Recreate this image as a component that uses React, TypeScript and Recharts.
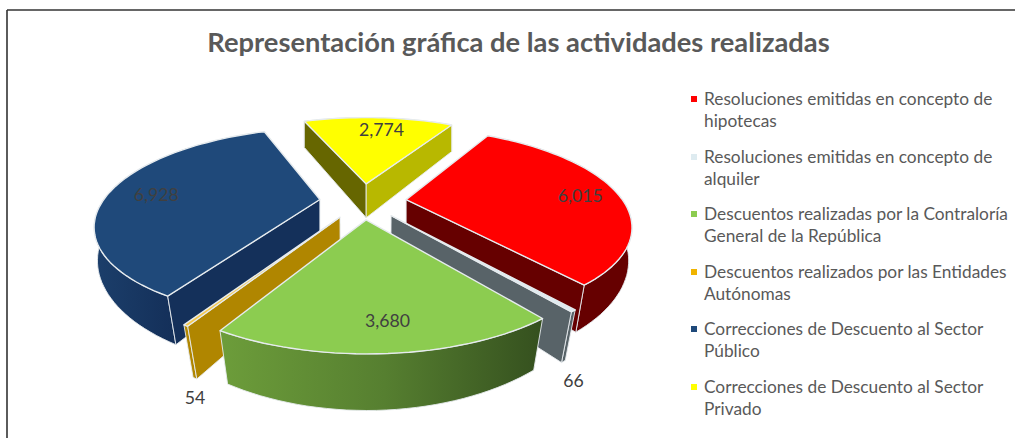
import React from 'react';
import { PieChart, Pie, Legend } from 'recharts';

const categories = [
  'Resoluciones emitidas en concepto de\nhipotecas',
  'Resoluciones emitidas en concepto de\nalquiler',
  'Descuentos realizadas por la Contraloría\nGeneral de la República',
  'Descuentos realizados por las Entidades\nAutónomas',
  'Correcciones de Descuento al Sector\nPúblico',
  'Correcciones de Descuento al Sector\nPrivado',
];
const values = [6015, 66, 3680, 54, 6928, 2774];

const topColors = ['#FF0000', '#DEEBF0', '#8CCC50', '#F5C84A', '#1F497A', '#FFFF00'];
const legendColors = ['#FF0000', '#DEEBF0', '#8CCC50', '#F0B400', '#1F497A', '#FFFF00'];
const rimColors = ['#660000', '#586368', 'url(#greenRim)', '#B08600', 'url(#blueRim)', '#B8B800'];
const startWallColors = ['#660000', '#586368', '#3A5520', '#B08600', '#14305A', '#666600'];
const endWallColors = ['#660000', '#586368', '#3A5520', '#B08600', '#14305A', '#B8B800'];

const rows = categories.map((name, i) => ({ name, value: values[i] }));

// Perspective model
const W = 1015;
const H = 438;
const CX = 363;
const CY = 201;
const RADIUS = 217;
const SQUASH = 90 / 217;
const PERSP = 0.245;
const EXPLODE = 0.2;
const DEPTH = 36;
const DEPTH_POWER = 1.3;
const BASE_SHRINK = 0.05;
const EDGE = '#E6EBEE';

const project = (u: number, v: number, cx: number, cy: number, r: number, low = false) => {
  const s = 1 / (1 - PERSP * v);
  const x = r * u * s;
  const y = r * SQUASH * v * s;
  if (!low) return [cx + x, cy + y];
  return [cx + x * (1 - BASE_SHRINK * Math.max(0, v)), cy + y + DEPTH * Math.pow(s, DEPTH_POWER)];
};
const unit = (deg: number) => {
  const t = (deg * Math.PI) / 180;
  return [Math.sin(t), -Math.cos(t)];
};
const fmt = (p: number[]) => `${p[0].toFixed(1)},${p[1].toFixed(1)}`;

const layerOf = [0, 1, 2, 1, 0, 0];

const Slice = (props: any) => {
  const { cx, cy, outerRadius, startAngle, endAngle, index, layer } = props;
  if (layerOf[index] !== layer) return <g />;
  const a1 = 90 - startAngle;
  const a2 = 90 - endAngle;
  const [eu, ev] = unit((a1 + a2) / 2).map((d) => d * EXPLODE);
  const pt = (deg: number, rad: number, low = false) => {
    const [u, v] = unit(deg);
    return project(eu + u * rad, ev + v * rad, cx, cy, outerRadius, low);
  };
  const steps = Math.max(2, Math.ceil((a2 - a1) / 2));
  const upper: number[][] = [];
  const lower: number[][] = [];
  for (let i = 0; i <= steps; i++) {
    const d = a1 + ((a2 - a1) * i) / steps;
    upper.push(pt(d, 1));
    lower.push(pt(d, 1, true));
  }
  const apexT = pt(0, 0);
  const apexB = pt(0, 0, true);
  const startVisible = -Math.sin((a1 * Math.PI) / 180) > 0;
  const endVisible = Math.sin((a2 * Math.PI) / 180) > 0;
  const rimPts = [...upper, ...[...lower].reverse()].map(fmt).join(' ');
  const topPts = [apexT, ...upper].map(fmt).join(' ');
  return (
    <g>
      <defs>
        <linearGradient id="greenRim" gradientUnits="userSpaceOnUse" x1="225" y1="0" x2="545" y2="0">
          <stop offset="0" stopColor="#6C9C3A" />
          <stop offset="0.5" stopColor="#567F30" />
          <stop offset="1" stopColor="#344F1E" />
        </linearGradient>
        <linearGradient id="blueRim" gradientUnits="userSpaceOnUse" x1="93" y1="0" x2="171" y2="0">
          <stop offset="0" stopColor="#1C3F6B" />
          <stop offset="1" stopColor="#14305A" />
        </linearGradient>
      </defs>
      <polygon points={rimPts} fill={rimColors[index]} stroke={EDGE} strokeWidth={0.9} strokeLinejoin="round" />
      {startVisible && (
        <polygon
          points={[apexT, upper[0], lower[0], apexB].map(fmt).join(' ')}
          fill={startWallColors[index]}
          stroke={EDGE}
          strokeWidth={0.9}
          strokeLinejoin="round"
        />
      )}
      {endVisible && (
        <polygon
          points={[apexT, upper[steps], lower[steps], apexB].map(fmt).join(' ')}
          fill={endWallColors[index]}
          stroke={EDGE}
          strokeWidth={0.9}
          strokeLinejoin="round"
        />
      )}
      <polygon points={topPts} fill={topColors[index]} stroke={EDGE} strokeWidth={1.4} strokeLinejoin="round" />
    </g>
  );
};

const SMALL_VALUE = 100;
const sliceLabel = (props: any) => {
  const { cx, cy, outerRadius, midAngle, value } = props;
  const mid = 90 - midAngle;
  const [eu, ev] = unit(mid).map((d) => d * EXPLODE);
  const [u, v] = unit(mid);
  let p: number[];
  if (value < SMALL_VALUE) {
    const base = project(eu + u, ev + v, cx, cy, outerRadius, true);
    p = [base[0] + (u > 0 ? 10 : 0), base[1] + 21];
  } else {
    const c = project(eu + u * 0.8, ev + v * 0.8, cx, cy, outerRadius);
    p = [c[0] + 5, c[1] + 3];
  }
  return (
    <text
      x={p[0]}
      y={p[1]}
      textAnchor="middle"
      dominantBaseline="middle"
      fontFamily="Lato, sans-serif"
      fontSize={17.7}
      fill="#404040"
    >
      {Number(value).toLocaleString('en-US')}
    </text>
  );
};

const LegendBlock = () => (
  <div style={{ position: 'absolute', left: 691, top: 88, width: 322, fontFamily: 'Lato, sans-serif', fontSize: 17.3, lineHeight: '22px', color: '#595959' }}>
    {categories.map((c, i) => (
      <div key={c} style={{ position: 'relative', paddingLeft: 13, height: 44, marginBottom: 13.6, whiteSpace: 'pre-line' }}>
        <span style={{ position: 'absolute', left: 0, top: 8, width: 6, height: 6, background: legendColors[i] }} />
        {c}
      </div>
    ))}
  </div>
);

export default function App() {
  return (
    <div style={{ position: 'absolute', left: 0, top: 0, width: W, height: H, background: '#fff', overflow: 'hidden' }}>
      <PieChart width={W} height={H} margin={{ top: 0, right: 0, bottom: 0, left: 0 }}>
        <line x1={7} y1={10} x2={W} y2={10} stroke="#333333" strokeWidth={1.6} />
        <line x1={7} y1={10} x2={7} y2={H} stroke="#333333" strokeWidth={1.6} />
        <text x={518.5} y={45} textAnchor="middle" dominantBaseline="middle" fontFamily="Lato, sans-serif" fontWeight={700} fontSize={27.3} fill="#595959">
          Representación gráfica de las actividades realizadas
        </text>
        {[0, 1, 2].map((layer) => (
          <Pie
            key={layer}
            data={rows}
            dataKey="value"
            nameKey="name"
            cx={CX}
            cy={CY}
            outerRadius={RADIUS}
            startAngle={60}
            endAngle={-300}
            stroke="none"
            isAnimationActive={false}
            labelLine={false}
            label={layer === 2 ? sliceLabel : false}
            shape={(p: any) => <Slice {...p} layer={layer} />}
          />
        ))}
        <Legend content={LegendBlock} wrapperStyle={{ position: 'absolute', left: 0, top: 0, width: 0, height: 0 }} />
      </PieChart>
    </div>
  );
}
